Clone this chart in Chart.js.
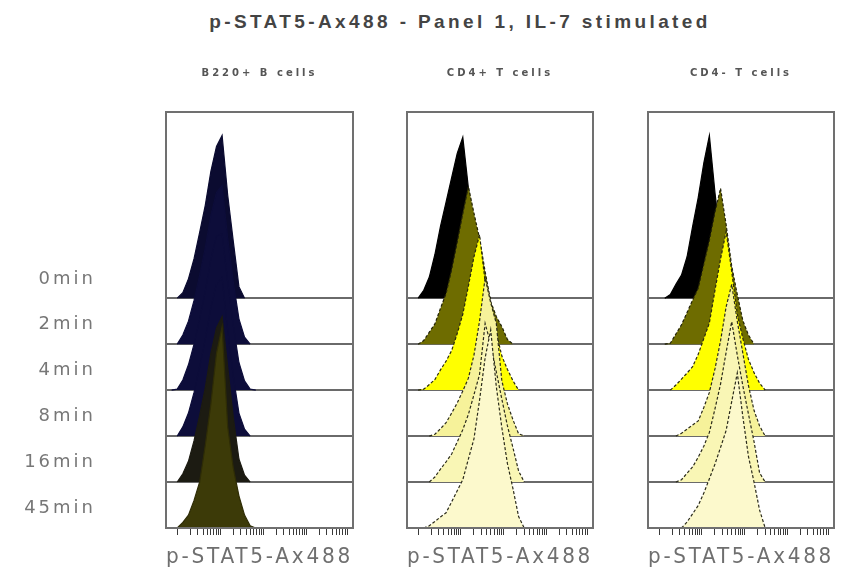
<!DOCTYPE html>
<html><head><meta charset="utf-8">
<script src="https://cdn.jsdelivr.net/npm/chart.js@4.4.1/dist/chart.umd.min.js"></script>
<style>
html,body{margin:0;padding:0;background:#fff;width:843px;height:572px;overflow:hidden}
#title{position:absolute;left:0;top:12px;width:920px;text-align:center;font:bold 19px "Liberation Sans",Arial,sans-serif;letter-spacing:3.4px;color:#444;line-height:20px;white-space:nowrap}
canvas{position:absolute;top:0}
</style></head><body>
<div id="title">p-STAT5-Ax488 - Panel 1, IL-7 stimulated</div>
<canvas id="c1" width="360" height="572" style="left:0px"></canvas>
<canvas id="c2" width="240" height="572" style="left:380px"></canvas>
<canvas id="c3" width="223" height="572" style="left:620px"></canvas>
<script>
// ---- data ----
const bins = [3,6,9,12,15,18,21,24,27,30,33,36,39,42,45,48,51,54,57,60,63,66];
const rowLabels = ['0min','2min','4min','8min','16min','45min'];
const panelTitles = ['B220+ B cells','CD4+ T cells','CD4- T cells'];
const axisTitle = 'p-STAT5-Ax488';

const b220Counts = [
  [0,0,0.12,0.42,0.86,1.43,2.02,2.76,3.3,3.54,2.24,1.23,0.25,0,0,0,0,0,0,0,0,0],
  [0,0,0.2,0.5,0.95,1.5,2.1,2.8,3.3,3.45,2.3,1.35,0.55,0.15,0,0,0,0,0,0,0,0],
  [0,0.02,0.22,0.55,1.0,1.55,2.15,2.85,3.35,3.4,2.35,1.4,0.6,0.2,0.02,0,0,0,0,0,0,0],
  [0,0,0.2,0.5,0.95,1.5,2.1,2.8,3.3,3.45,2.3,1.3,0.5,0.15,0,0,0,0,0,0,0,0],
  [0,0,0.18,0.45,0.9,1.45,2.05,2.8,3.35,3.6,2.5,1.4,0.5,0.15,0,0,0,0,0,0,0,0],
  [0,0,0.12,0.28,0.6,1.0,1.8,2.7,3.8,4.38,2.2,1.3,0.7,0.28,0.05,0,0,0,0,0,0,0]
];
const cd4posCounts = [
  [0,0,0.17,0.46,0.95,1.56,2.09,2.62,3.15,3.5,2.4,1.35,0.55,0.1,0,0,0,0,0,0,0,0],
  [0,0,0.08,0.26,0.44,0.78,1.1,1.62,2.22,2.84,3.43,2.85,2.3,1.58,0.93,0.6,0.38,0.1,0,0,0,0],
  [0,0,0.02,0.12,0.23,0.44,0.63,0.86,1.23,1.65,2.26,2.9,3.38,2.36,1.85,1.25,0.74,0.45,0.2,0,0,0],
  [0,0,0,0,0.04,0.16,0.29,0.5,0.72,0.98,1.26,1.76,2.5,3.44,2.9,2.45,1.2,0.7,0.35,0.05,0,0],
  [0,0,0,0,0.11,0.28,0.44,0.61,0.87,1.14,1.47,1.9,2.34,3.45,3.0,2.4,1.8,1.22,0.74,0.24,0,0],
  [0,0,0,0.05,0.14,0.24,0.33,0.57,0.81,1.05,1.5,1.94,2.78,3.7,4.31,3.08,2.18,1.4,0.85,0.25,0,0]
];
const cd4negCounts = [
  [0,0,0,0.08,0.3,0.5,0.9,1.56,2.19,2.94,3.54,2.3,1.25,0.53,0.1,0,0,0,0,0,0,0],
  [0,0,0,0.02,0.22,0.42,0.69,0.96,1.22,1.74,2.26,2.87,3.39,2.6,1.7,1.08,0.51,0.2,0,0,0,0],
  [0,0,0,0,0.11,0.24,0.37,0.51,0.78,1.12,1.46,2.17,2.85,3.45,2.58,1.65,1.12,0.67,0.38,0.15,0,0],
  [0,0,0,0,0,0.06,0.15,0.24,0.33,0.62,0.95,1.46,2.07,2.81,3.3,2.5,1.8,1.1,0.56,0.22,0,0],
  [0,0,0,0,0,0.05,0.19,0.33,0.54,0.78,1.08,1.59,2.13,2.82,3.49,2.76,2.09,1.48,0.88,0.2,0,0],
  [0,0,0,0,0,0,0.13,0.31,0.49,0.76,1.07,1.39,1.75,2.12,2.75,3.37,2.42,1.56,1.0,0.39,0,0]
];

// ---- styles ----
const b220Fill   = ['#0b0b30','#0d0d3a','#0d0d3a','#0d0d3a','#1c1b12','#3c3a08'];
const b220Line   = ['#0b0b30','#0d0d3a','#0d0d3a','#0d0d3a','#1c1b12','#2e2c06'];
const tcellFill  = ['#000000','#6e6c00','#ffff00','#f6f29a','#f9f6b5','#fcf9cc'];
const tcellLine  = ['#000000','#222208','#2a2a10','#2a2a1a','#2a2a1a','#2a2a1a'];
const tcellDash  = [false,true,true,true,true,true];
const b220Dash   = [false,false,false,false,false,false];

const frame = {
  id: 'frame',
  afterDraw(chart) {
    const {ctx, chartArea: a} = chart;
    ctx.save();
    ctx.strokeStyle = '#707070';
    ctx.lineWidth = 2;
    ctx.strokeRect(a.left, a.top, a.right - a.left, a.bottom - a.top);
    ctx.restore();
  }
};
const spacing = {
  id: 'spacing',
  beforeDraw(chart) { if ('letterSpacing' in chart.ctx) chart.ctx.letterSpacing = '3px'; }
};

function makeChart(id, title, counts, fills, lines, dashes, showRows, padL, padR, yWidth) {
  const n = rowLabels.length;
  const datasets = counts.map((row, r) => {
    const offset = n - 1 - r;
    return {
      label: rowLabels[r],
      data: bins.map((x, i) => ({
        x: x,
        y: (row[i] === 0 && !(row[i - 1] > 0) && !(row[i + 1] > 0)) ? null : row[i] + offset
      })),
      fill: {value: offset},
      backgroundColor: fills[r],
      borderColor: lines[r],
      borderWidth: 1.2,
      borderDash: dashes[r] ? [3, 2] : [],
      pointRadius: 0,
      tension: 0,
      order: n - r
    };
  });
  return new Chart(document.getElementById(id), {
    type: 'line',
    data: {datasets},
    options: {
      responsive: false,
      animation: false,
      layout: {padding: {left: padL, right: padR, top: 0, bottom: 0}},
      plugins: {
        legend: {display: false},
        tooltip: {enabled: false},
        title: {
          display: true, text: title, fullSize: false, color: '#555',
          font: {family: 'DejaVu Sans', size: 10, weight: 'bold'},
          padding: {top: 67, bottom: 33}
        }
      },
      scales: {
        x: {
          type: 'linear', min: 0, max: 100,
          afterBuildTicks: s => {
            const t = [];
            for (let d = 0; d < 4; d++) for (let k = 1; k <= 9; k++) {
              const v = 6 + 23 * (d + Math.log10(k));
              if (v <= 100) t.push({value: v});
            }
            s.ticks = t;
          },
          ticks: {display: false},
          grid: {drawOnChartArea: false, drawTicks: true, tickLength: 7, color: '#3a3a3a', lineWidth: 1},
          border: {display: false},
          title: {display: true, text: axisTitle, color: '#6f6f6f',
                  font: {family: 'DejaVu Sans', size: 22}, padding: {top: 0, bottom: 2}},
          afterFit: s => { s.height = 44; s.paddingLeft = 0; s.paddingRight = 0; }
        },
        y: {
          type: 'linear', min: 0, max: 9.05,
          afterBuildTicks: s => {
            const t = [];
            for (let r = 0; r < n; r++) { t.push({value: r}); t.push({value: r + 0.42}); }
            s.ticks = t;
          },
          grid: {
            drawTicks: false, lineWidth: 2,
            color: c => (c.tick && c.tick.value % 1 === 0 && c.tick.value > 0) ? '#6a6a6a' : 'rgba(0,0,0,0)'
          },
          border: {display: false},
          ticks: {
            display: showRows, autoSkip: false, padding: 70, color: '#777',
            font: {family: 'DejaVu Sans', size: 18},
            callback: v => (v % 1 !== 0) ? rowLabels[n - 1 - Math.floor(v)] : ''
          },
          afterFit: s => { s.width = yWidth; s.paddingTop = 0; s.paddingBottom = 0; }
        }
      }
    },
    plugins: [spacing, frame]
  });
}

makeChart('c1', panelTitles[0], b220Counts, b220Fill, b220Line, b220Dash, true, 0, 7, 166);
makeChart('c2', panelTitles[1], cd4posCounts, tcellFill, tcellLine, tcellDash, false, 27, 27, 0);
makeChart('c3', panelTitles[2], cd4negCounts, tcellFill, tcellLine, tcellDash, false, 28, 9, 0);
</script>
</body></html>
